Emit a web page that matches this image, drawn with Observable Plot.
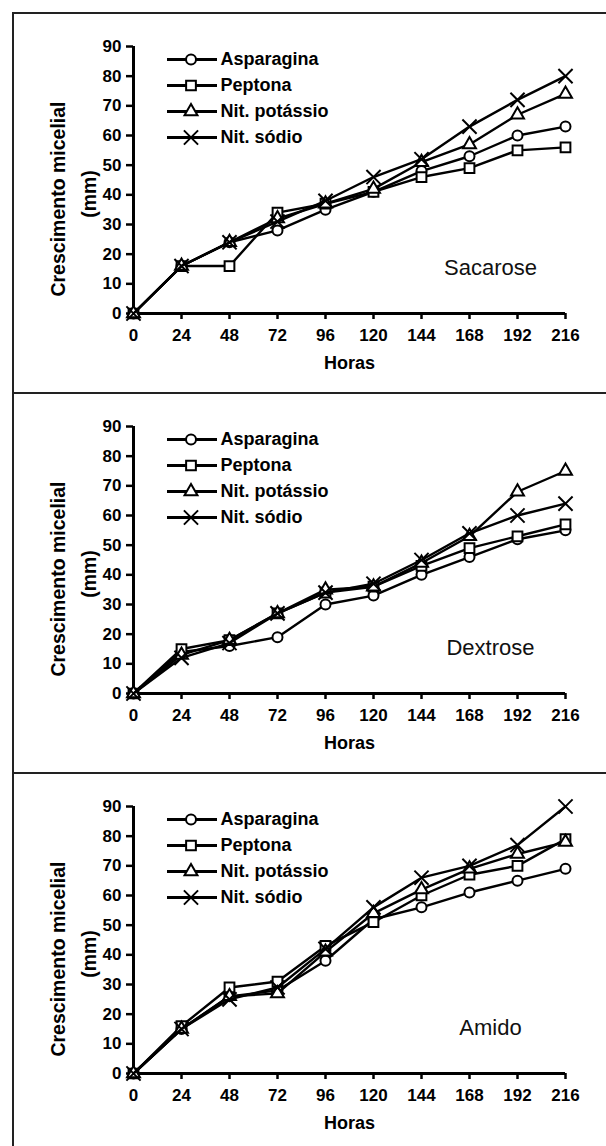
<!DOCTYPE html>
<html><head><meta charset="utf-8">
<script src="https://cdn.jsdelivr.net/npm/d3@7"></script>
<script src="https://cdn.jsdelivr.net/npm/@observablehq/plot@0.6"></script>
<style>
body{margin:0;background:#fff;}
#page{position:relative;width:606px;height:1146px;overflow:hidden;background:#fff;}
.panel{position:absolute;left:0;width:606px;}
.legend{position:absolute;left:160px;}
.sep{position:absolute;left:12px;right:0;height:0;border-top:2px solid #222;}
.vline{position:absolute;left:12px;top:13px;bottom:0;width:0;border-left:2px solid #222;}
</style></head><body><div id="page"></div>
<script>
// ---- data ----
const hours = [0, 24, 48, 72, 96, 120, 144, 168, 192, 216];
const yTicks = [0, 10, 20, 30, 40, 50, 60, 70, 80, 90];
const seriesNames = ["Asparagina", "Peptona", "Nit. potássio", "Nit. sódio"];
const seriesSymbols = ["circle", "square", "triangle", "times"];
const panelLabels = ["Sacarose", "Dextrose", "Amido"];
const xTitle = "Horas";
const yTitle1 = "Crescimento micelial";
const yTitle2 = "(mm)";

const sacaroseAsparagina = [0, 16, 24, 28, 35, 41, 48, 53, 60, 63];
const sacarosePeptona    = [0, 16, 16, 34, 37, 41, 46, 49, 55, 56];
const sacarosePotassio   = [0, 16, 24, 32, 37, 42, 51, 57, 67, 74];
const sacaroseSodio      = [0, 16, 24, 31, 38, 46, 52, 63, 72, 80];

const dextroseAsparagina = [0, 14, 16, 19, 30, 33, 40, 46, 52, 55];
const dextrosePeptona    = [0, 15, 18, 27, 34, 36, 43, 49, 53, 57];
const dextrosePotassio   = [0, 13, 18, 27, 35, 36, 44, 53, 68, 75];
const dextroseSodio      = [0, 12, 17, 27, 34, 37, 45, 54, 60, 64];

const amidoAsparagina = [0, 15, 26, 28, 38, 52, 56, 61, 65, 69];
const amidoPeptona    = [0, 16, 29, 31, 43, 51, 60, 67, 70, 79];
const amidoPotassio   = [0, 15, 26, 27, 41, 54, 62, 69, 74, 78];
const amidoSodio      = [0, 15, 25, 29, 42, 56, 66, 70, 77, 90];

const panelSeries = [
  [sacaroseAsparagina, sacarosePeptona, sacarosePotassio, sacaroseSodio],
  [dextroseAsparagina, dextrosePeptona, dextrosePotassio, dextroseSodio],
  [amidoAsparagina, amidoPeptona, amidoPotassio, amidoSodio]
];

// ---- layout ----
const FONT = "'Liberation Sans', Arial, Helvetica, sans-serif";
const panelTops = [13, 393, 773];
const panelHeights = [380, 380, 373];
const symbolR = {circle: 5, square: 5.5, triangle: 4.8, times: 6.5};

const page = document.getElementById("page");

panelSeries.forEach((vals, p) => {
  const marks = [];
  vals.forEach((arr, s) => {
    const rows = hours.map((h, i) => ({h, v: arr[i]}));
    marks.push(Plot.line(rows, {x: "h", y: "v", stroke: "black", strokeWidth: 2.4}));
    marks.push(Plot.dot(rows, {x: "h", y: "v", symbol: () => seriesSymbols[s], r: symbolR[seriesSymbols[s]],
      stroke: "black", strokeWidth: 2, fill: seriesSymbols[s] === "times" ? "none" : "white"}));
  });

  const chart = Plot.plot({
    width: 606,
    height: panelHeights[p],
    marginLeft: 133,
    marginRight: 41,
    marginTop: 33,
    marginBottom: panelHeights[p] - 300,
    style: {fontFamily: FONT, fontSize: "17px", fontWeight: "bold", color: "black", background: "transparent"},
    x: {domain: [0, 216]},
    y: {domain: [0, 90]},
    symbol: {domain: seriesSymbols, range: seriesSymbols},
    marks: [
      Plot.axisX({ticks: hours, tickSize: 6, tickPadding: 9, label: null, strokeWidth: 2.5, fontSize: 17, fontWeight: "bold"}),
      Plot.axisY({ticks: yTicks, tickSize: 7, tickPadding: 5, label: null, strokeWidth: 2.5, fontSize: 17, fontWeight: "bold"}),
      Plot.ruleY([0], {strokeWidth: 3}),
      Plot.ruleX([0], {strokeWidth: 3}),
      ...marks,
      Plot.text([xTitle], {frameAnchor: "bottom", dy: 50, text: d => d, fontSize: 18, fontWeight: "bold", lineAnchor: "middle"}),
      Plot.text([yTitle1], {frameAnchor: "left", rotate: -90, dx: -75, dy: 19, text: d => d, fontSize: 19.5, fontWeight: "bold", lineAnchor: "middle", textAnchor: "middle"}),
      Plot.text([yTitle2], {frameAnchor: "left", rotate: -90, dx: -44, dy: 14, text: d => d, fontSize: 19.5, fontWeight: "bold", lineAnchor: "middle", textAnchor: "middle"}),
      Plot.text([panelLabels[p]], {frameAnchor: "bottom-right", dx: -75, dy: -46, text: d => d, fontSize: 22, fontWeight: "normal", textAnchor: "middle", lineAnchor: "middle", fill: "#111"})
    ]
  });
  const div = document.createElement("div");
  div.className = "panel";
  div.style.top = panelTops[p] + "px";
  div.appendChild(chart);
  page.appendChild(div);

  // legend
  const legend = Plot.plot({
    width: 240,
    height: 110,
    margin: 0,
    style: {fontFamily: FONT, fontSize: "18px", fontWeight: "bold", color: "black", background: "transparent"},
    x: {domain: [0, 1], range: [7, 57], axis: null},
    y: {type: "point", domain: seriesNames, range: [13, 92.5], padding: 0, axis: null},
    marks: [
      Plot.ruleY(seriesNames, {y: d => d, x1: () => 0, x2: () => 1, stroke: "black", strokeWidth: 3}),
      ...seriesNames.map((n, s) => Plot.dot([n], {x: () => 0.47, y: d => d, symbol: () => seriesSymbols[s], r: symbolR[seriesSymbols[s]],
        stroke: "black", strokeWidth: 2, fill: seriesSymbols[s] === "times" ? "none" : "white"})),
      Plot.text(seriesNames, {x: () => 1, y: d => d, text: d => d, dx: 3, textAnchor: "start", fontSize: 18, fontWeight: "bold"})
    ]
  });
  const ld = document.createElement("div");
  ld.className = "legend";
  ld.style.top = (panelTops[p] + 32) + "px";
  ld.appendChild(legend);
  page.appendChild(ld);
});

// frame lines
const v = document.createElement("div"); v.className = "vline"; page.appendChild(v);
panelTops.forEach(t => { const s = document.createElement("div"); s.className = "sep"; s.style.top = (t - 1) + "px"; page.appendChild(s); });
</script></body></html>
